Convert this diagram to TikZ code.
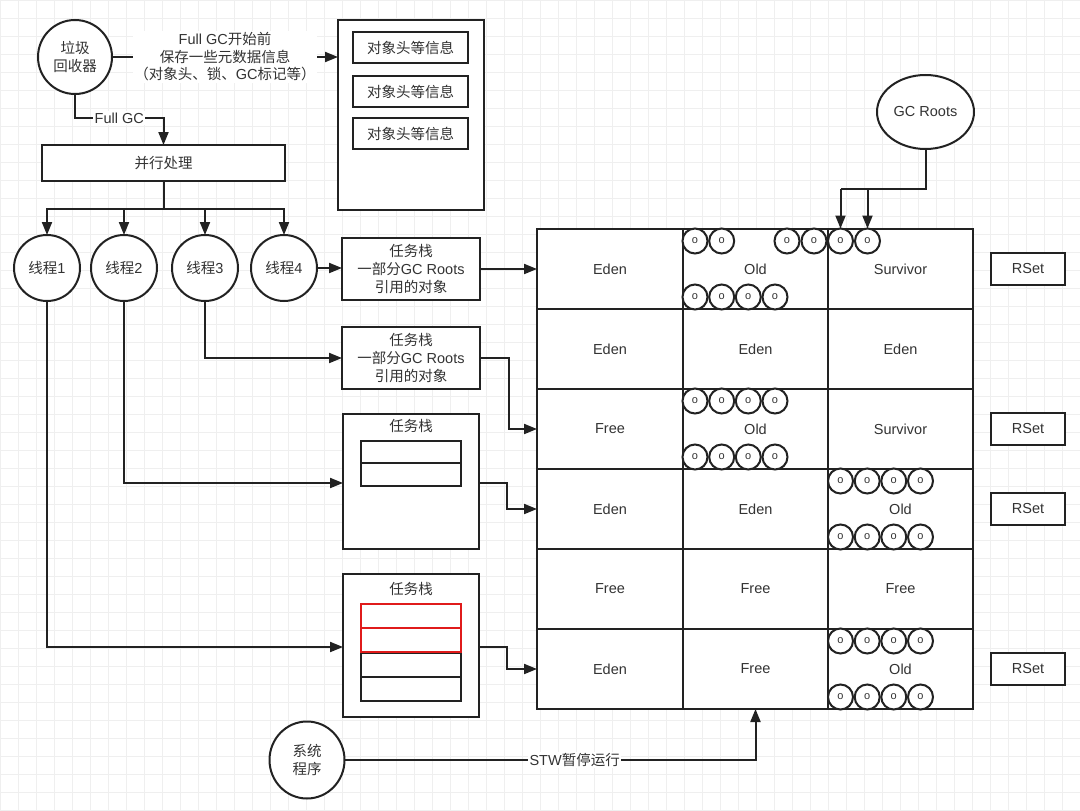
\documentclass[tikz,border=0pt]{standalone}
\usepackage{fontspec}
\setmainfont{Liberation Sans}
\newfontfamily\cjk{Noto Sans CJK SC}
\usetikzlibrary{arrows.meta,shapes.geometric}
\definecolor{ln}{HTML}{222222}
\definecolor{tx}{HTML}{333333}
\definecolor{gridc}{HTML}{EFEFEF}
\definecolor{redb}{HTML}{E01B1B}
\tikzset{
  base/.style={draw=ln, fill=white, line width=2pt, inner sep=0pt, outer sep=0pt, text=tx, align=center, font=\fontsize{14.5}{18}\selectfont},
  boxn/.style={base, rectangle},
  circn/.style={base, circle},
  elln/.style={base, ellipse},
  cell/.style={base, minimum height=80pt},
  oc/.style={base, circle, minimum size=25pt, line width=2pt, font=\fontsize{11}{11}\selectfont},
  inrect/.style={draw=ln, fill=white, line width=2pt, minimum width=100pt, inner sep=0pt, outer sep=0pt},
  redrect/.style={draw=redb, line width=2pt, minimum width=100pt, inner sep=0pt, outer sep=0pt},
  arr/.style={draw=ln, line width=2pt, -{Triangle[length=13pt,width=10pt]}},
  conn/.style={draw=ln, line width=2pt},
  lbl/.style={fill=white, text=tx, inner sep=1.5pt, align=center, font=\fontsize{14.5}{17.5}\selectfont},
  txt/.style={text=tx, inner sep=0pt, font=\fontsize{14.5}{18}\selectfont}
}
\begin{document}
\begin{tikzpicture}[x=1pt,y=-1pt]
\fill[white] (0,0) rectangle (1080,811);
\useasboundingbox (0,0) rectangle (1080,811);
\draw[gridc, line width=0.6pt, step=18pt] (0,0) grid (1080,811);

% top left
\node[circn, minimum size=74pt] (gc) at (75,57) {{\cjk 垃圾}\\{\cjk 回收器}};
\node[boxn, minimum width=146pt, minimum height=190pt] (meta) at (411,115) {};
\node[boxn, minimum width=115pt, minimum height=31pt] (m1) at (410.5,47.5) {\cjk 对象头等信息};
\node[boxn, minimum width=115pt, minimum height=31pt] (m2) at (410.5,91.5) {\cjk 对象头等信息};
\node[boxn, minimum width=115pt, minimum height=31pt] (m3) at (410.5,133.5) {\cjk 对象头等信息};
\node[boxn, minimum width=243pt, minimum height=36pt] (par) at (163.5,163) {\cjk 并行处理};

\draw[arr] (gc.east) -- node[lbl]{Full GC{\cjk 开始前}\\{\cjk 保存一些元数据信息}\\{\cjk （对象头、锁、}GC{\cjk 标记等）}} (gc.east -| meta.west);
\draw[arr] (gc.south) |- node[lbl, pos=0.75]{Full GC} (par.north |- 0,118) -- (par.north);

% threads
\node[circn, minimum size=66pt] (t1) at (47,268) {{\cjk 线程}1};
\node[circn, minimum size=66pt] (t2) at (124,268) {{\cjk 线程}2};
\node[circn, minimum size=66pt] (t3) at (205,268) {{\cjk 线程}3};
\node[circn, minimum size=66pt] (t4) at (284,268) {{\cjk 线程}4};
\coordinate (br) at (par.south |- 0,209);
\draw[conn] (par.south) -- (br);
\draw[arr] (br) -| (t1.north);
\draw[arr] (br) -| (t2.north);
\draw[arr] (br) -| (t3.north);
\draw[arr] (br) -| (t4.north);

% task stacks
\node[boxn, minimum width=138pt, minimum height=62pt] (ts1) at (411,269) {{\cjk 任务栈}\\{\cjk 一部分}GC Roots\\{\cjk 引用的对象}};
\node[boxn, minimum width=138pt, minimum height=62pt] (ts2) at (411,358) {{\cjk 任务栈}\\{\cjk 一部分}GC Roots\\{\cjk 引用的对象}};
\node[boxn, minimum width=136pt, minimum height=135pt] (ts3) at (411,481.5) {};
\node[txt] (ts3t) at (411,426) {\cjk 任务栈};
\node[inrect, minimum height=22pt] (ts3a) at (411,452) {};
\node[inrect, minimum height=23pt] (ts3b) at (411,474.5) {};
\node[boxn, minimum width=136pt, minimum height=143pt] (ts4) at (411,645.5) {};
\node[txt] (ts4t) at (411,589) {\cjk 任务栈};
\node[inrect, minimum height=24pt] (ts4c) at (411,665) {};
\node[inrect, minimum height=24pt] (ts4d) at (411,689) {};
\node[redrect, minimum height=24pt] (ts4a) at (411,616) {};
\node[redrect, minimum height=24pt] (ts4b) at (411,640) {};

% heap cells
\foreach \r/\y/\a/\b/\c in {1/269/Eden/Old/Survivor, 2/349/Eden/Eden/Eden, 3/429/Free/Old/Survivor, 4/509/Eden/Eden/Old, 5/589/Free/Free/Free, 6/669/Eden/Free/Old}{
  \node[cell, minimum width=146pt] (c\r1) at (610,\y) {\a};
  \node[cell, minimum width=145pt] (c\r2) at (755.5,\y) {\b};
  \node[cell, minimum width=145pt] (c\r3) at (900.5,\y) {\c};
}

% small object circles
\foreach \x [count=\i] in {695,721.7,787,814,840.5,867.5} \node[oc] (oa\i) at (\x,241) {o};
\foreach \x [count=\i] in {695,721.7,748.3,775} {
  \node[oc] (ob\i) at (\x,297) {o};
  \node[oc] (oc\i) at (\x,401) {o};
  \node[oc] (od\i) at (\x,457) {o};
}
\foreach \x [count=\i] in {840.5,867.2,893.8,920.5} {
  \node[oc] (oe\i) at (\x,481) {o};
  \node[oc] (of\i) at (\x,537) {o};
  \node[oc] (og\i) at (\x,641) {o};
  \node[oc] (oh\i) at (\x,697) {o};
}

% RSet
\node[boxn, minimum width=74pt, minimum height=32pt] (rs1) at (1028,269) {RSet};
\node[boxn, minimum width=74pt, minimum height=32pt] (rs3) at (1028,429) {RSet};
\node[boxn, minimum width=74pt, minimum height=32pt] (rs4) at (1028,509) {RSet};
\node[boxn, minimum width=74pt, minimum height=32pt] (rs6) at (1028,669) {RSet};

% GC Roots
\node[elln, minimum width=97pt, minimum height=74pt] (gcr) at (925.5,112) {GC Roots};
\coordinate (gj) at (gcr.south |- 0,189);
\draw[conn] (gcr.south) -- (gj) -- (gj -| oa5.north);
\draw[arr] (gj -| oa5.north) -- (oa5.north);
\draw[arr] (gj -| oa6.north) -- (oa6.north);

% connectors threads -> stacks -> heap
\draw[arr] (t4.east) -- (t4.east -| ts1.west);
\draw[arr] (ts1.east) -- (c11.west);
\draw[arr] (t3.south) |- (ts2.west);
\draw[arr] (ts2.east) -- ++(29,0) |- (c31.west);
\draw[arr] (t2.south) |- (ts3.west |- 0,483);
\draw[arr] (ts3.east |- 0,483) -- ++(28,0) |- (c41.west);
\draw[arr] (t1.south) |- (ts4.west |- 0,647);
\draw[arr] (ts4.east |- 0,647) -- ++(28,0) |- (c61.west);

% system program
\node[elln, minimum width=75pt, minimum height=77pt] (sys) at (307,760) {{\cjk 系统}\\{\cjk 程序}};
\draw[arr] (sys.east) -| node[lbl, pos=0.28]{STW{\cjk 暂停运行}} (c62.south);
\end{tikzpicture}
\end{document}
